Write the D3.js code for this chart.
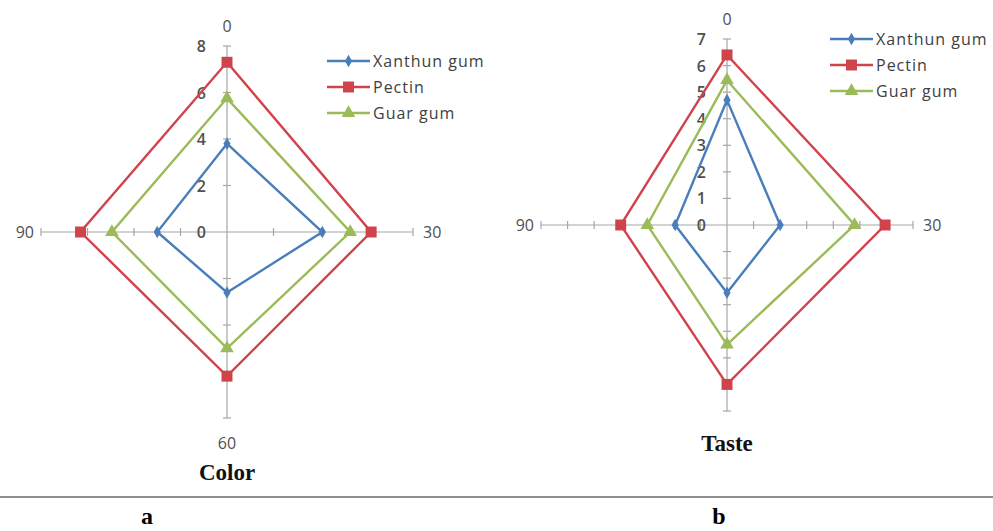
<!DOCTYPE html>
<html>
<head>
<meta charset="utf-8">
<script src="https://cdn.jsdelivr.net/npm/d3@7"></script>
<style>
  body { margin: 0; background: #fff; }
  svg { display: block; }
</style>
</head>
<body>
<svg id="chart" width="993" height="531"></svg>
<script>
// categories (spokes, clockwise from top)
var categories = ["0", "30", "60", "90"];
var seriesNames = ["Xanthun gum", "Pectin", "Guar gum"];

// Color panel (a)
var colorXanthun = [3.8, 4.1, 2.6, 3.0];
var colorPectin = [7.3, 6.2, 6.2, 6.3];
var colorGuar = [5.75, 5.3, 5.0, 4.95];
var colorTicks = [0, 2, 4, 6, 8];
var colorCatLabels = ["0", "30", "60", "90"];

// Taste panel (b)
var tasteXanthun = [4.7, 2.0, 2.55, 1.95];
var tastePectin = [6.4, 5.95, 6.0, 4.0];
var tasteGuar = [5.45, 4.8, 4.5, 3.0];
var tasteTicks = [0, 1, 2, 3, 4, 5, 6, 7];
var tasteCatLabels = ["0", "30", "", "90"];

var colors = ["#4a7ebb", "#d0434a", "#9bbb59"];
var markers = [d3.symbolDiamond, d3.symbolSquare, d3.symbolTriangle];
var markerSizes = [45, 120, 80];

var svg = d3.select("#chart");

function drawRadar(opt) {
  var g = svg.append("g").attr("transform", "translate(" + opt.cx + "," + opt.cy + ")");
  var max = d3.max(opt.ticks);
  var r = d3.scaleLinear().domain([0, max]).range([0, opt.R]);
  var angle = d3.scalePoint().domain(categories).range([0, 2 * Math.PI * 3 / 4]);

  // spokes
  categories.forEach(function(c) {
    var a = angle(c);
    g.append("line")
      .attr("x1", 0).attr("y1", 0)
      .attr("x2", Math.sin(a) * r(max)).attr("y2", -Math.cos(a) * r(max))
      .attr("stroke", "#a6a6a6").attr("stroke-width", 1.2);
    // tick marks across each spoke
    opt.ticks.slice(1).forEach(function(t) {
      var px = Math.sin(a) * r(t), py = -Math.cos(a) * r(t);
      var nx = Math.cos(a) * 4, ny = Math.sin(a) * 4;
      g.append("line")
        .attr("x1", px - nx).attr("y1", py - ny)
        .attr("x2", px + nx).attr("y2", py + ny)
        .attr("stroke", "#a6a6a6").attr("stroke-width", 1.2);
    });
  });

  // value labels along the top spoke
  g.selectAll(".vlab").data(opt.ticks).enter().append("text")
    .attr("x", -21).attr("y", function(d) { return -r(d) + 6; })
    .attr("text-anchor", "end")
    .attr("font-family", "Open Sans, sans-serif").attr("font-size", 16)
    .attr("font-weight", 600)
    .attr("fill", "#505050")
    .text(function(d) { return d; });

  // category labels
  var catPos = [
    { x: 0, y: -r(max) - 14, anchor: "middle" },
    { x: r(max) + 10, y: 6, anchor: "start" },
    { x: 0, y: r(max) + 31, anchor: "middle" },
    { x: -r(max) - 7, y: 6, anchor: "end" }
  ];
  opt.catLabels.forEach(function(lab, i) {
    if (!lab) return;
    g.append("text")
      .attr("x", catPos[i].x).attr("y", catPos[i].y)
      .attr("text-anchor", catPos[i].anchor)
      .attr("font-family", "Open Sans, sans-serif").attr("font-size", 16)
      .attr("fill", "#505050")
      .text(lab);
  });

  var line = d3.lineRadial()
    .angle(function(d, i) { return angle(categories[i]); })
    .radius(function(d) { return r(d); })
    .curve(d3.curveLinearClosed);

  opt.series.forEach(function(vals, si) {
    g.append("path")
      .attr("d", line(vals))
      .attr("fill", "none")
      .attr("stroke", colors[si])
      .attr("stroke-width", 2.4);
  });
  opt.series.forEach(function(vals, si) {
    g.selectAll(".m" + si).data(vals).enter().append("path")
      .attr("d", d3.symbol().type(markers[si]).size(markerSizes[si]))
      .attr("transform", function(d, i) {
        var a = angle(categories[i]);
        return "translate(" + (Math.sin(a) * r(d)) + "," + (-Math.cos(a) * r(d)) + ")";
      })
      .attr("fill", colors[si]);
  });

  // legend
  var lg = svg.append("g").attr("transform", "translate(" + opt.lx + "," + opt.ly + ")");
  seriesNames.forEach(function(name, si) {
    var y = si * 26;
    lg.append("line").attr("x1", 0).attr("x2", 43).attr("y1", y).attr("y2", y)
      .attr("stroke", colors[si]).attr("stroke-width", 2.4);
    lg.append("path")
      .attr("d", d3.symbol().type(markers[si]).size(markerSizes[si]))
      .attr("transform", "translate(21.5," + y + ")")
      .attr("fill", colors[si]);
    lg.append("text")
      .attr("x", 46).attr("y", y + 6)
      .attr("font-family", "Open Sans, sans-serif").attr("font-size", 16)
      .attr("letter-spacing", 1)
      .attr("fill", "#404040")
      .text(name);
  });

  // panel title
  svg.append("text")
    .attr("x", opt.cx).attr("y", opt.titleY)
    .attr("text-anchor", "middle")
    .attr("font-family", "Liberation Serif, serif").attr("font-size", 23)
    .attr("font-weight", "bold")
    .attr("fill", "#111")
    .text(opt.title);
}

drawRadar({
  cx: 227, cy: 232, R: 186,
  ticks: colorTicks, catLabels: colorCatLabels,
  series: [colorXanthun, colorPectin, colorGuar],
  lx: 327, ly: 61, title: "Color", titleY: 480
});

drawRadar({
  cx: 727, cy: 225, R: 186,
  ticks: tasteTicks, catLabels: tasteCatLabels,
  series: [tasteXanthun, tastePectin, tasteGuar],
  lx: 830, ly: 39, title: "Taste", titleY: 451
});

// separator and panel letters
svg.append("line")
  .attr("x1", 0).attr("x2", 993).attr("y1", 497).attr("y2", 497)
  .attr("stroke", "#6b6b6b").attr("stroke-width", 1.5);

[["a", 147], ["b", 719]].forEach(function(p) {
  svg.append("text")
    .attr("x", p[1]).attr("y", 524)
    .attr("text-anchor", "middle")
    .attr("font-family", "Liberation Serif, serif").attr("font-size", 24)
    .attr("font-weight", "bold")
    .attr("fill", "#000")
    .text(p[0]);
});
</script>
</body>
</html>
